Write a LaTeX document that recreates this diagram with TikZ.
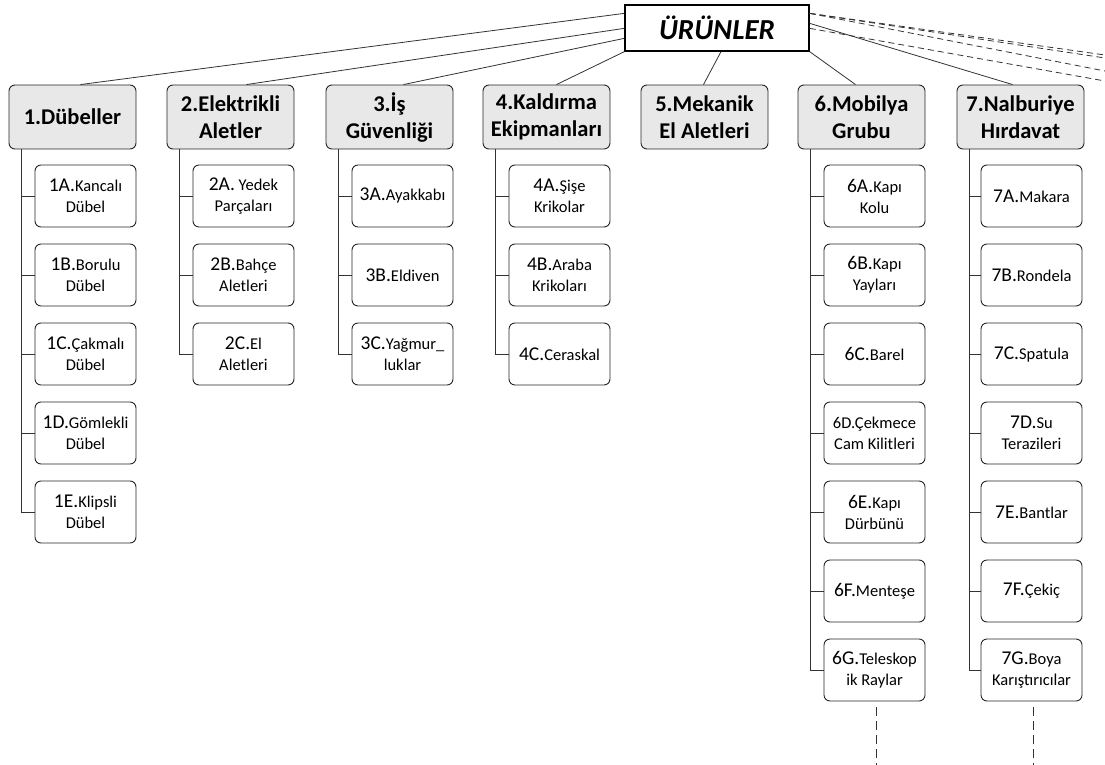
\documentclass[tikz,border=0pt]{standalone}
\usepackage{fontspec}
\setmainfont{Carlito}
\newcommand\pfx[1]{{\fontsize{19.5}{20}\selectfont #1}}
\begin{document}
\begin{tikzpicture}[x=1pt,y=-1pt,
  link/.style={draw=black!80,line width=0.8pt},
  offpage/.style={draw=black!80,line width=0.8pt,dash pattern=on 6pt off 4pt},
  rootbox/.style={draw=black,line width=1.3pt,minimum width=184pt,minimum height=46pt,
    inner sep=0pt,font=\fontsize{29}{32}\selectfont\bfseries\itshape},
  cat/.style={draw=black!85,line width=0.9pt,fill=black!9,rounded corners=6pt,
    minimum width=127pt,minimum height=64pt,inner sep=0pt,align=center,
    font=\fontsize{22.5}{27}\selectfont\bfseries},
  item/.style={draw=black!85,line width=0.9pt,rounded corners=6pt,fill=white,
    minimum width=101pt,minimum height=62pt,inner sep=0pt,align=center,
    font=\fontsize{16.5}{21}\selectfont},
]
\useasboundingbox (0,0) rectangle (1105,765);

% top node
\node[rootbox] (root) at (717,28) {ÜRÜNLER};

% categories
\node[cat] (c1) at (72.5,117) {1.Dübeller};
\node[cat] (c2) at (230.5,117) {2.Elektrikli\\Aletler};
\node[cat] (c3) at (389.5,117) {3.İş\\Güvenliği};
\node[cat] (c4) at (546.5,117) {4.Kaldırma\\Ekipmanları};
\node[cat] (c5) at (704.5,117) {5.Mekanik\\El Aletleri};
\node[cat] (c6) at (861.5,117) {6.Mobilya\\Grubu};
\node[cat] (c7) at (1020.5,117) {7.Nalburiye\\Hırdavat};

% root links
\draw[link] ([yshift=-9pt]root.north west) -- ([xshift=8pt]c1.north);
\draw[link] ([yshift=-24pt]root.north west) -- ([xshift=16pt]c2.north);
\draw[link] ([yshift=-34pt]root.north west) -- ([xshift=14pt]c3.north);
\draw[link] (root.south west) -- ([xshift=10pt]c4.north);
\draw[link] ([xshift=4pt]root.south) -- ([xshift=-1pt]c5.north);
\draw[link] (root.south east) -- ([xshift=-6pt]c6.north);
\draw[link] ([yshift=-19pt]root.north east) -- ([xshift=-8pt]c7.north);

% links to further categories on the next page
\coordinate (r1) at (1105,55);
\coordinate (r2) at (1105,58);
\coordinate (r3) at (1105,71);
\coordinate (r4) at (1105,81);
\draw[offpage] ([yshift=-9pt]root.north east) -- (r1);
\draw[offpage] ([yshift=-9pt]root.north east) -- (r2);
\draw[offpage] ([yshift=-9pt]root.north east) -- (r3);
\draw[offpage] ([yshift=-24pt]root.north east) -- (r4);

% 1
\node[item] (k1a) at (85.5,196) {\pfx{1A.}Kancalı\\Dübel};
\node[item] (k1b) at (85.5,275) {\pfx{1B.}Borulu\\Dübel};
\node[item] (k1c) at (85.5,354) {\pfx{1C.}Çakmalı\\Dübel};
\node[item] (k1d) at (85.5,433) {\pfx{1D.}Gömlekli\\Dübel};
\node[item] (k1e) at (85.5,512) {\pfx{1E.}Klipsli\\Dübel};
% 2
\node[item] (k2a) at (243.5,196) {\pfx{2A.} Yedek\\Parçaları};
\node[item] (k2b) at (243.5,275) {\pfx{2B.}Bahçe\\Aletleri};
\node[item] (k2c) at (243.5,354) {\pfx{2C.}El\\Aletleri};
% 3
\node[item] (k3a) at (402.5,196) {\pfx{3A.}Ayakkabı};
\node[item] (k3b) at (402.5,275) {\pfx{3B.}Eldiven};
\node[item] (k3c) at (402.5,354) {\pfx{3C.}Yağmur\_\\luklar};
% 4
\node[item] (k4a) at (559.5,196) {\pfx{4A.}Şişe\\Krikolar};
\node[item] (k4b) at (559.5,275) {\pfx{4B.}Araba\\Krikoları};
\node[item] (k4c) at (559.5,354) {\pfx{4C.}Ceraskal};
% 6
\node[item] (k6a) at (874.5,196) {\pfx{6A.}Kapı\\Kolu};
\node[item] (k6b) at (874.5,275) {\pfx{6B.}Kapı\\Yayları};
\node[item] (k6c) at (874.5,354) {\pfx{6C.}Barel};
\node[item] (k6d) at (874.5,433) {6D.Çekmece\\Cam Kilitleri};
\node[item] (k6e) at (874.5,512) {\pfx{6E.}Kapı\\Dürbünü};
\node[item] (k6f) at (874.5,591) {\pfx{6F.}Menteşe};
\node[item] (k6g) at (874.5,670) {\pfx{6G.}Teleskop\\ik Raylar};
% 7
\node[item] (k7a) at (1031.5,196) {\pfx{7A.}Makara};
\node[item] (k7b) at (1031.5,275) {\pfx{7B.}Rondela};
\node[item] (k7c) at (1031.5,354) {\pfx{7C.}Spatula};
\node[item] (k7d) at (1031.5,433) {\pfx{7D.}Su\\Terazileri};
\node[item] (k7e) at (1031.5,512) {\pfx{7E.}Bantlar};
\node[item] (k7f) at (1031.5,591) {\pfx{7F.}Çekiç};
\node[item] (k7g) at (1031.5,670) {\pfx{7G.}Boya\\Karıştırıcılar};

% bracket connectors
\foreach \c/\last/\others in {1/k1e/{k1a,k1b,k1c,k1d},2/k2c/{k2a,k2b},3/k3c/{k3a,k3b},
    4/k4c/{k4a,k4b},6/k6g/{k6a,k6b,k6c,k6d,k6e,k6f},7/k7g/{k7a,k7b,k7c,k7d,k7e,k7f}}{
  \coordinate (b\c) at ([xshift=13pt]c\c.south west);
  \draw[link] (b\c) |- (\last.west);
  \foreach \k in \others { \draw[link] (\k.west) -- (\k.west -| b\c); }
}

% continuation marks
\coordinate (d6) at (876,765);
\coordinate (d7) at (1033,765);
\draw[offpage,dash pattern=on 9pt off 5pt] ([yshift=-6pt,xshift=1.5pt]k6g.south) -- (d6);
\draw[offpage,dash pattern=on 9pt off 5pt] ([yshift=-6pt,xshift=1.5pt]k7g.south) -- (d7);
\end{tikzpicture}
\end{document}
